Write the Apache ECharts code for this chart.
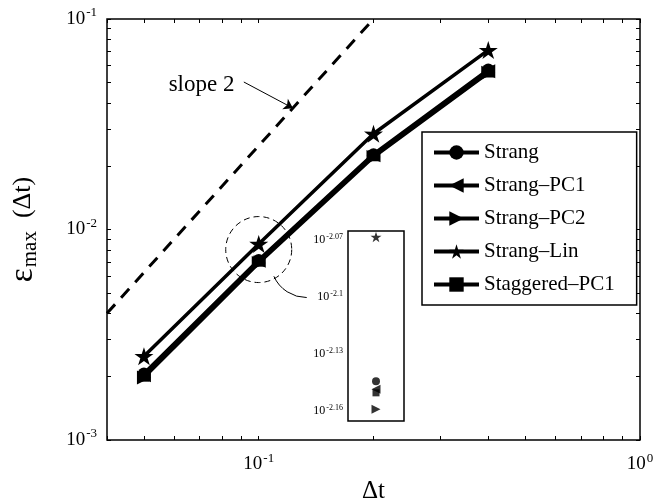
<!DOCTYPE html>
<html>
<head>
<meta charset="utf-8">
<script src="https://cdn.jsdelivr.net/npm/echarts@6/dist/echarts.min.js"></script>
<style>
  html, body { margin: 0; padding: 0; background: #fff; }
  #main { width: 655px; height: 502px; }
</style>
</head>
<body>
<div id="main"></div>
<script>
// step sizes on the x axis
const dtValues = [0.05, 0.1, 0.2, 0.4];

// max error per method
const strang       = [0.00207, 0.00717, 0.0228, 0.0575];
const strangPC1    = [0.00203, 0.00710, 0.0225, 0.0565];
const strangPC2    = [0.00198, 0.00693, 0.0221, 0.0555];
const strangLin    = [0.00250, 0.00854, 0.0285, 0.0712];
const staggeredPC1 = [0.00201, 0.00707, 0.0224, 0.0560];

// slope-2 reference line end points
const slopeX = [0.04, 0.2];
const slopeY = [0.004, 0.1];

// tick values
const xTicks = [0.04, 0.05, 0.06, 0.07, 0.08, 0.09, 0.1, 0.2, 0.3, 0.4, 0.5, 0.6, 0.7, 0.8, 0.9, 1];
const xLabels = [0.1, 1];
const yTicks = [0.001, 0.002, 0.003, 0.004, 0.005, 0.006, 0.007, 0.008, 0.009,
                0.01, 0.02, 0.03, 0.04, 0.05, 0.06, 0.07, 0.08, 0.09, 0.1];
const yLabels = [0.001, 0.01, 0.1];
const insetExp = [-2.07, -2.10, -2.13, -2.16];

const serif = 'Liberation Serif';
const black = '#000';

function starPath() {
    let pts = [];
    for (let i = 0; i < 10; i++) {
        const a = (-90 + i * 36) * Math.PI / 180;
        const r = i % 2 === 0 ? 50 : 19;
        pts.push((50 + r * Math.cos(a)).toFixed(2) + ',' + (50 + r * Math.sin(a)).toFixed(2));
    }
    return 'path://M' + pts.join('L') + 'Z';
}
const STAR = starPath();

const powRich = {
    b: { fontFamily: serif, fontSize: 19, color: black },
    e: { fontFamily: serif, fontSize: 13, color: black, verticalAlign: 'top', padding: [0, 0, 12, 1] }
};
const insetRich = {
    b: { fontFamily: serif, fontSize: 12, color: black },
    e: { fontFamily: serif, fontSize: 8, color: black, verticalAlign: 'top', padding: [0, 0, 6, 1] }
};

const methods = [
    { name: 'Strang', data: strang, symbol: 'circle', size: 12, insetSize: 8, rotate: 0 },
    { name: 'Strang\u2013PC1', data: strangPC1, symbol: 'triangle', size: 14, insetSize: 9, rotate: 90 },
    { name: 'Strang\u2013PC2', data: strangPC2, symbol: 'triangle', size: 14, insetSize: 9, rotate: -90 },
    { name: 'Strang\u2013Lin', data: strangLin, symbol: STAR, size: 19, insetSize: 11, rotate: 0 },
    { name: 'Staggered\u2013PC1', data: staggeredPC1, symbol: 'rect', size: 11, insetSize: 7, rotate: 0 }
];

const mainSeries = methods.map(m => ({
    name: m.name,
    type: 'line',
    xAxisIndex: 0,
    yAxisIndex: 0,
    data: dtValues.map((x, i) => [x, m.data[i]]),
    symbol: m.symbol,
    symbolSize: m.size,
    symbolRotate: m.rotate,
    symbolKeepAspect: true,
    lineStyle: { color: black, width: 3.5 },
    itemStyle: { color: black },
    z: 3
}));

// inset: zoom of the dt = 0.1 points
const insetSeries = methods.map(m => ({
    name: m.name,
    type: 'scatter',
    xAxisIndex: 2,
    yAxisIndex: 2,
    data: [[dtValues[1], m.data[1]]],
    symbol: m.symbol,
    symbolSize: m.insetSize,
    symbolRotate: m.rotate,
    symbolKeepAspect: true,
    itemStyle: { color: black },
    z: 5
}));

const slopeSeries = {
    name: 'slope',
    type: 'line',
    xAxisIndex: 0,
    yAxisIndex: 0,
    data: slopeX.map((x, i) => [x, slopeY[i]]),
    symbol: 'none',
    lineStyle: { color: black, width: 3, type: [12, 9] },
    z: 2,
    markLine: {
        silent: true,
        symbol: ['none', 'arrow'],
        symbolSize: 9,
        lineStyle: { type: 'solid', width: 1, color: black },
        label: { show: false },
        data: [[{ coord: [0.0914, 0.0502] }, { coord: [0.123, 0.0377] }]]
    },
    markPoint: {
        silent: true,
        symbol: 'circle',
        symbolSize: 1,
        itemStyle: { color: 'rgba(0,0,0,0)' },
        data: [{
            coord: [0.0708, 0.0487],
            label: { show: true, position: 'inside', formatter: 'slope 2', fontFamily: serif, fontSize: 23, color: black }
        }]
    }
};

const powFmt = v => '{b|10}{e|' + Math.round(Math.log10(v)) + '}';
const insetFmt = v => '{b|10}{e|' + parseFloat(Math.log10(v).toFixed(2)) + '}';

const tickStyle = (vals, len) => ({ show: true, inside: true, length: len, customValues: vals, lineStyle: { color: black, width: 1 } });

const option = {
    animation: false,
    backgroundColor: '#fff',
    grid: [
        { left: 107, top: 19, right: 15, bottom: 62, outerBoundsMode: 'none', show: true, borderColor: black, borderWidth: 1.5, backgroundColor: 'rgba(0,0,0,0)' },
        { left: 348, top: 231, width: 56, height: 190, outerBoundsMode: 'none', show: true, borderColor: black, borderWidth: 1.5, backgroundColor: '#fff', z: 4 }
    ],
    legend: {
        orient: 'vertical',
        left: 422,
        top: 132,
        padding: [10, 22, 10, 10],
        itemWidth: 45,
        itemHeight: 18,
        itemGap: 12,
        backgroundColor: '#fff',
        borderColor: black,
        borderWidth: 1.5,
        data: methods.map(m => m.name),
        lineStyle: { width: 4, color: black },
        textStyle: { fontFamily: serif, fontSize: 21, color: black },
        z: 6
    },
    xAxis: [
        {
            type: 'log', logBase: 10, min: 0.04, max: 1, gridIndex: 0,
            name: '\u0394t', nameLocation: 'middle', nameGap: 38,
            nameTextStyle: { fontFamily: serif, fontSize: 25, color: black },
            axisLine: { show: false },
            axisTick: tickStyle(xTicks, 4),
            axisLabel: { customValues: xLabels, formatter: powFmt, rich: powRich, margin: 12 },
            splitLine: { show: false }
        },
        {
            type: 'log', logBase: 10, min: 0.04, max: 1, gridIndex: 0, position: 'top',
            axisLine: { show: false }, axisTick: tickStyle(xTicks, 4),
            axisLabel: { show: false }, splitLine: { show: false }
        },
        {
            type: 'value', min: 0.09, max: 0.11, gridIndex: 1,
            axisLine: { show: false }, axisTick: { show: false },
            axisLabel: { show: false }, splitLine: { show: false }
        }
    ],
    yAxis: [
        {
            type: 'log', logBase: 10, min: 0.001, max: 0.1, gridIndex: 0,
            name: '{e|\u03b5}{s|max}{n|(\u0394t)}', nameLocation: 'middle', nameGap: 66, nameRotate: 90,
            nameTextStyle: {
                rich: {
                    e: { fontFamily: serif, fontSize: 33, color: black },
                    s: { fontFamily: serif, fontSize: 21, color: black, verticalAlign: 'bottom', padding: [14, 0, 0, 1] },
                    n: { fontFamily: serif, fontSize: 26, color: black, padding: [0, 0, 0, 13] }
                }
            },
            axisLine: { show: false },
            axisTick: tickStyle(yTicks, 4),
            axisLabel: { customValues: yLabels, formatter: powFmt, rich: powRich, margin: 10 },
            splitLine: { show: false }
        },
        {
            type: 'log', logBase: 10, min: 0.001, max: 0.1, gridIndex: 0, position: 'right',
            axisLine: { show: false }, axisTick: tickStyle(yTicks, 4),
            axisLabel: { show: false }, splitLine: { show: false }
        },
        {
            type: 'log', logBase: 10, min: Math.pow(10, -2.1654), max: Math.pow(10, -2.0654), gridIndex: 1,
            axisLine: { show: false },
            axisTick: tickStyle(insetExp.map(e => Math.pow(10, e)), 3),
            axisLabel: { customValues: insetExp.map(e => Math.pow(10, e)), formatter: insetFmt, rich: insetRich, margin: 5 },
            splitLine: { show: false }
        },
        {
            type: 'log', logBase: 10, min: Math.pow(10, -2.1654), max: Math.pow(10, -2.0654), gridIndex: 1, position: 'right',
            axisLine: { show: false },
            axisTick: tickStyle(insetExp.map(e => Math.pow(10, e)), 3),
            axisLabel: { show: false }, splitLine: { show: false }
        }
    ],
    series: [slopeSeries].concat(mainSeries, insetSeries)
};

const myChart = echarts.init(document.getElementById('main'));
myChart.setOption(option);

// dashed circle around the dt = 0.1 points and the connector to the inset
const c = myChart.convertToPixel({ gridIndex: 0 }, [0.1, 0.00803]);
myChart.setOption({
    graphic: [
        {
            type: 'circle', z: 10, silent: true,
            shape: { cx: c[0], cy: c[1], r: 33 },
            style: { fill: 'none', stroke: black, lineWidth: 1, lineDash: [6, 4] }
        },
        {
            type: 'arc', z: 10, silent: true,
            shape: { cx: c[0] + 48, cy: c[1] + 12, r: 36, startAngle: Math.PI / 2, endAngle: 2.72, clockwise: true },
            style: { fill: 'none', stroke: black, lineWidth: 1 }
        }
    ]
});
</script>
</body>
</html>
